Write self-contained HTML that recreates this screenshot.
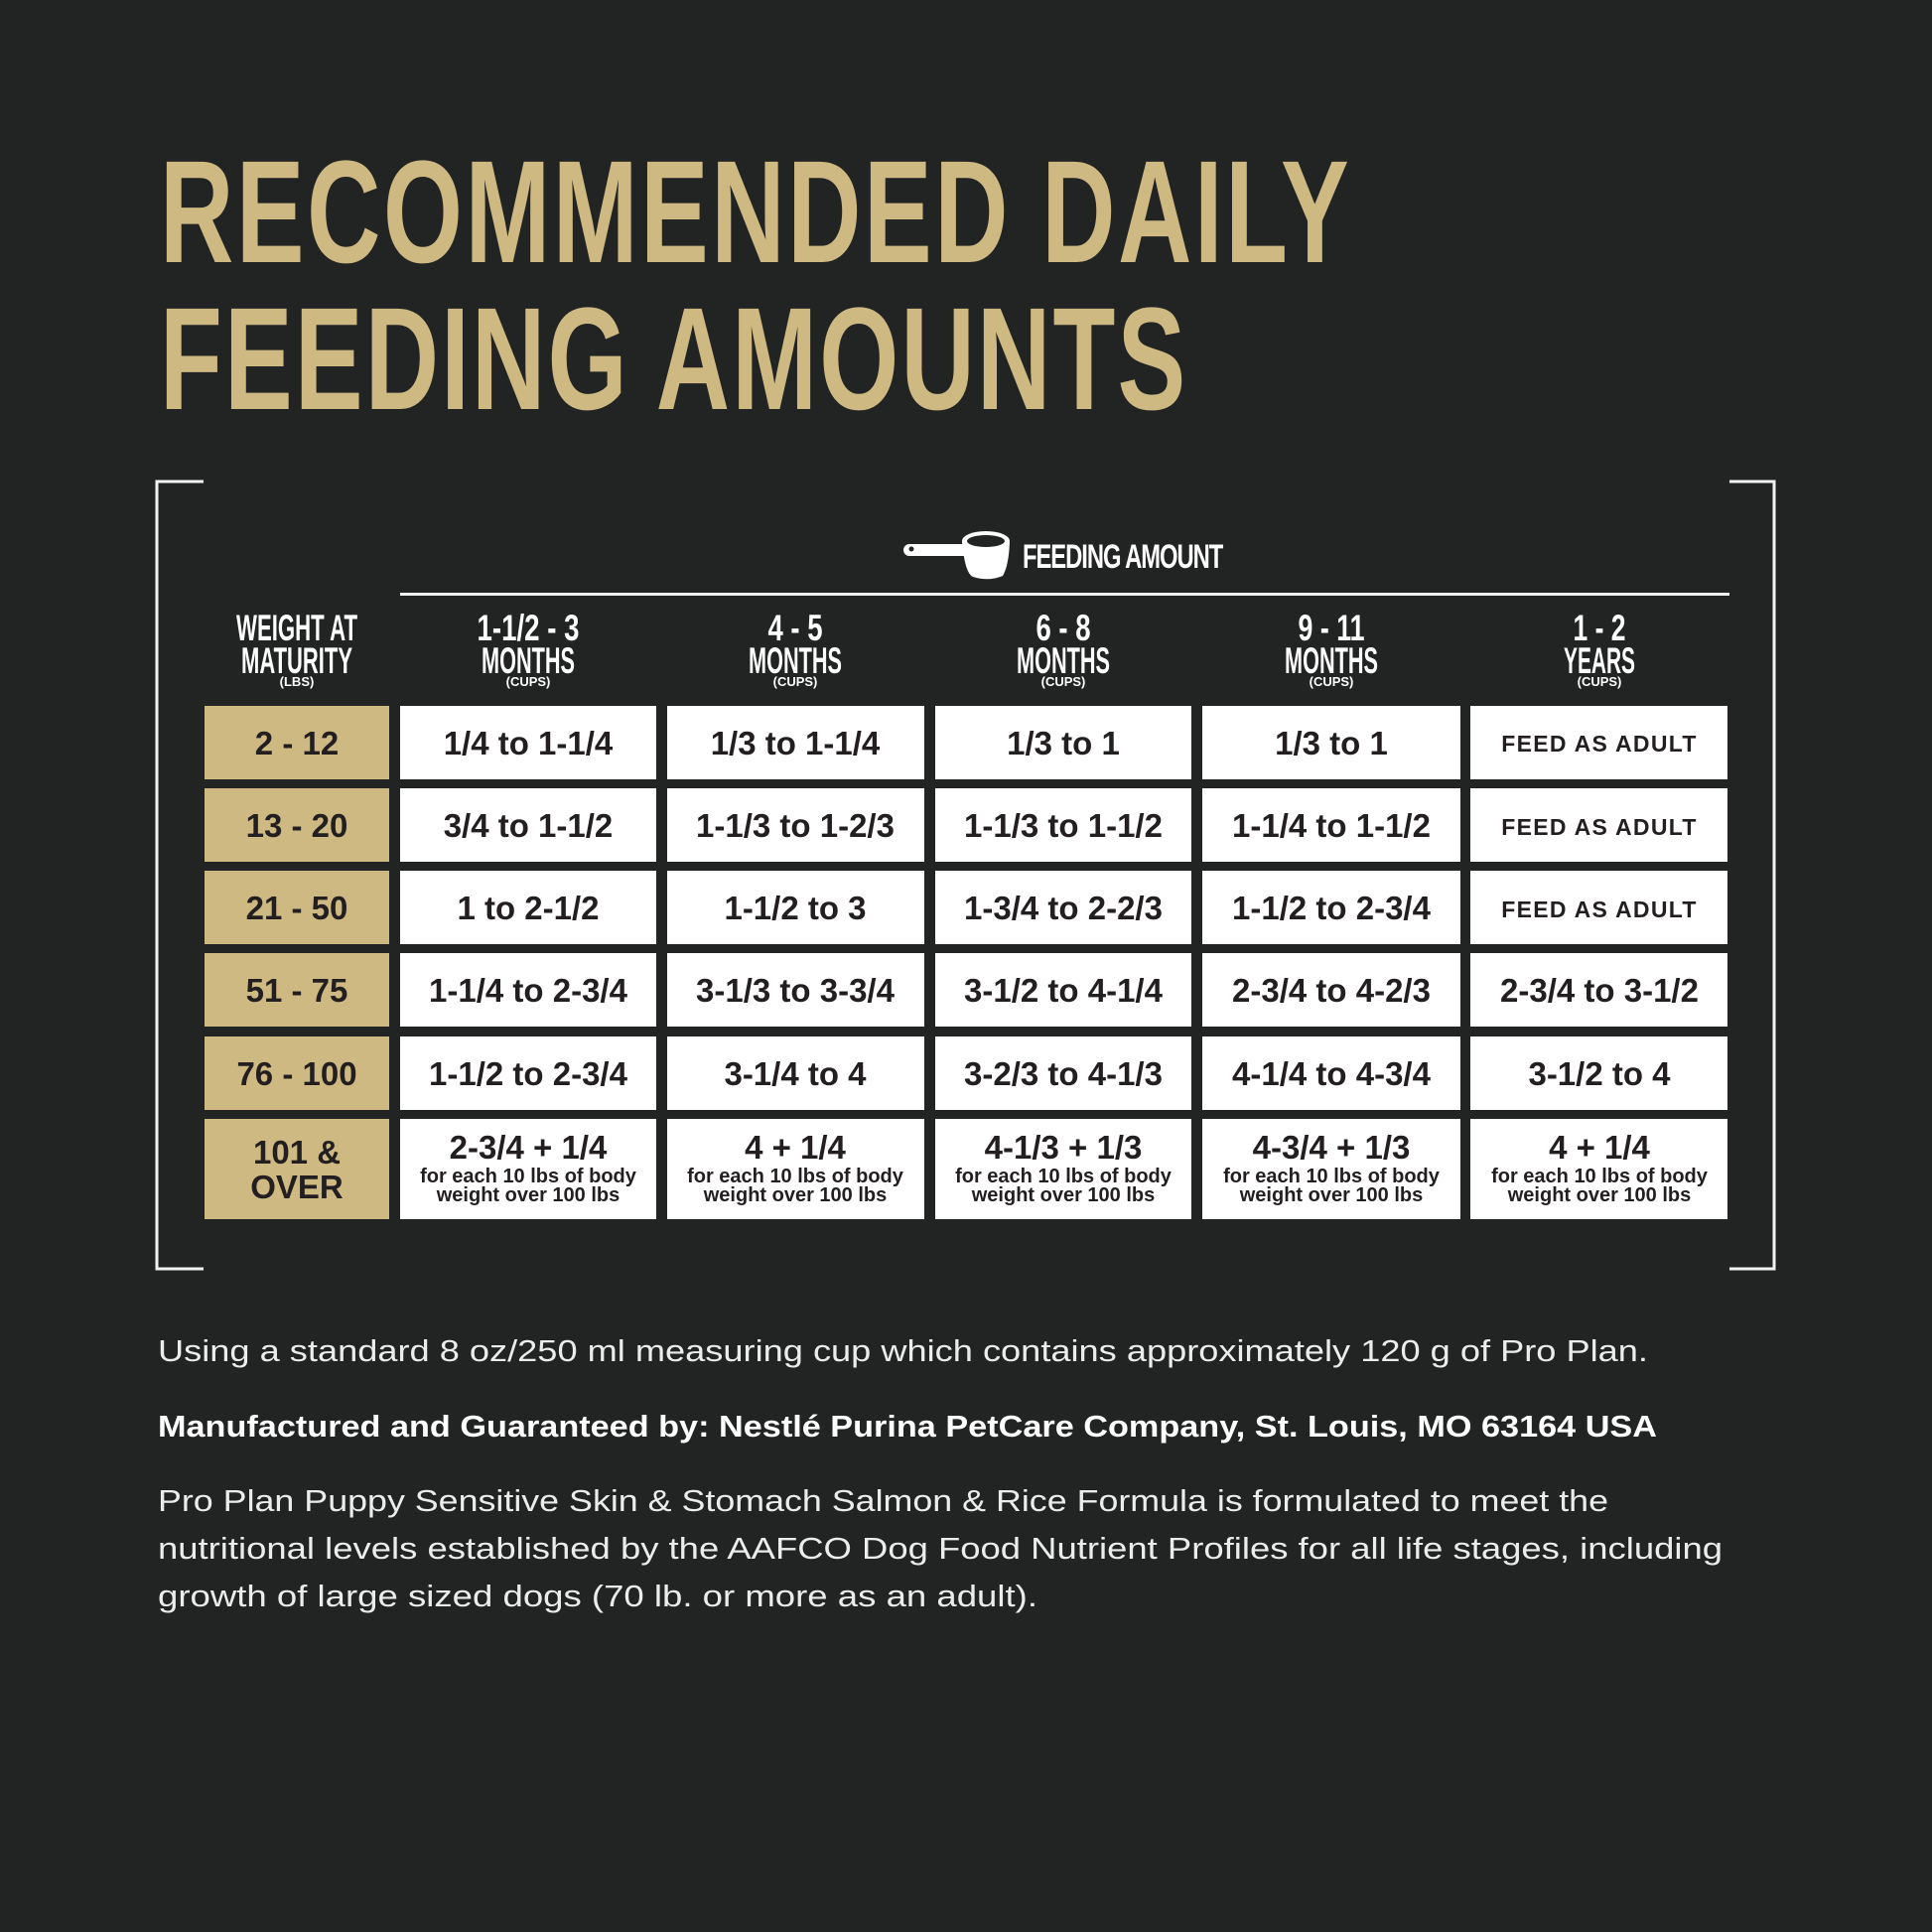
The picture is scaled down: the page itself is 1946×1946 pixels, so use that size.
<!DOCTYPE html>
<html><head><meta charset="utf-8"><style>
html,body{margin:0;padding:0;background:#222423;}
svg{display:block}
</style></head><body>
<svg width="1946" height="1946" viewBox="0 0 1946 1946" xmlns="http://www.w3.org/2000/svg">
<rect width="1946" height="1946" fill="#222423"/>
<g font-family="Liberation Sans, sans-serif">
<g transform="translate(161,264) scale(0.7,1)"><text x="0" y="0" font-size="147" font-weight="bold" fill="#cfb983" textLength="1711" lengthAdjust="spacing">RECOMMENDED DAILY</text></g>
<g transform="translate(161,412) scale(0.7,1)"><text x="0" y="0" font-size="147" font-weight="bold" fill="#cfb983" textLength="1476" lengthAdjust="spacing">FEEDING AMOUNTS</text></g>

<path d="M205 485 H158 V1278 H205" stroke="#f2f2f2" stroke-width="3" fill="none"/>
<path d="M1742 485 H1787 V1278 H1742" stroke="#f2f2f2" stroke-width="3" fill="none"/>

<!-- cup -->
<rect x="910" y="548" width="70" height="12" rx="6" fill="#fff"/>
<circle cx="918" cy="553" r="2.5" fill="#222423"/>
<path d="M969 546 Q972 578 980 581 Q996 586 1010 580 Q1016 570 1017 546 Z" fill="#fff"/>
<ellipse cx="993" cy="545" rx="24" ry="10" fill="#fff"/>
<ellipse cx="993" cy="545" rx="19" ry="6" fill="#222423"/>
<g transform="translate(1030,572) scale(0.7,1)"><text x="0" y="0" font-size="34" font-weight="bold" fill="#fff" textLength="289" lengthAdjust="spacing">FEEDING AMOUNT</text></g>
<rect x="403" y="597" width="1339" height="3" fill="#f2f2f2"/>

<!-- headers -->
<g fill="#fff" font-weight="bold" text-anchor="middle">
<text x="299" y="645" font-size="37" textLength="122" lengthAdjust="spacingAndGlyphs">WEIGHT AT</text>
<text x="299" y="678" font-size="37" textLength="112" lengthAdjust="spacingAndGlyphs">MATURITY</text>
<text x="299" y="691" font-size="13">(LBS)</text>
<text x="532" y="645" font-size="37" textLength="103" lengthAdjust="spacingAndGlyphs">1-1/2 - 3</text>
<text x="532" y="678" font-size="37" textLength="94" lengthAdjust="spacingAndGlyphs">MONTHS</text>
<text x="532" y="691" font-size="13">(CUPS)</text>
<text x="801" y="645" font-size="37" textLength="55" lengthAdjust="spacingAndGlyphs">4 - 5</text>
<text x="801" y="678" font-size="37" textLength="94" lengthAdjust="spacingAndGlyphs">MONTHS</text>
<text x="801" y="691" font-size="13">(CUPS)</text>
<text x="1071" y="645" font-size="37" textLength="55" lengthAdjust="spacingAndGlyphs">6 - 8</text>
<text x="1071" y="678" font-size="37" textLength="94" lengthAdjust="spacingAndGlyphs">MONTHS</text>
<text x="1071" y="691" font-size="13">(CUPS)</text>
<text x="1341" y="645" font-size="37" textLength="67" lengthAdjust="spacingAndGlyphs">9 - 11</text>
<text x="1341" y="678" font-size="37" textLength="94" lengthAdjust="spacingAndGlyphs">MONTHS</text>
<text x="1341" y="691" font-size="13">(CUPS)</text>
<text x="1611" y="645" font-size="37" textLength="53" lengthAdjust="spacingAndGlyphs">1 - 2</text>
<text x="1611" y="678" font-size="37" textLength="72" lengthAdjust="spacingAndGlyphs">YEARS</text>
<text x="1611" y="691" font-size="13">(CUPS)</text>
</g>

<!-- cells -->
<g fill="#cfb983">
<rect x="206" y="711" width="186" height="74"/>
<rect x="206" y="794" width="186" height="74"/>
<rect x="206" y="877" width="186" height="74"/>
<rect x="206" y="960" width="186" height="74"/>
<rect x="206" y="1044" width="186" height="74"/>
<rect x="206" y="1127" width="186" height="101"/>
</g>
<g fill="#fff">
<rect x="403" y="711" width="258" height="74"/><rect x="672" y="711" width="259" height="74"/><rect x="942" y="711" width="258" height="74"/><rect x="1211" y="711" width="260" height="74"/><rect x="1481" y="711" width="259" height="74"/>
<rect x="403" y="794" width="258" height="74"/><rect x="672" y="794" width="259" height="74"/><rect x="942" y="794" width="258" height="74"/><rect x="1211" y="794" width="260" height="74"/><rect x="1481" y="794" width="259" height="74"/>
<rect x="403" y="877" width="258" height="74"/><rect x="672" y="877" width="259" height="74"/><rect x="942" y="877" width="258" height="74"/><rect x="1211" y="877" width="260" height="74"/><rect x="1481" y="877" width="259" height="74"/>
<rect x="403" y="960" width="258" height="74"/><rect x="672" y="960" width="259" height="74"/><rect x="942" y="960" width="258" height="74"/><rect x="1211" y="960" width="260" height="74"/><rect x="1481" y="960" width="259" height="74"/>
<rect x="403" y="1044" width="258" height="74"/><rect x="672" y="1044" width="259" height="74"/><rect x="942" y="1044" width="258" height="74"/><rect x="1211" y="1044" width="260" height="74"/><rect x="1481" y="1044" width="259" height="74"/>
<rect x="403" y="1127" width="258" height="101"/><rect x="672" y="1127" width="259" height="101"/><rect x="942" y="1127" width="258" height="101"/><rect x="1211" y="1127" width="260" height="101"/><rect x="1481" y="1127" width="259" height="101"/>
</g>

<g fill="#231f20" font-weight="bold" text-anchor="middle" font-size="33">
<text x="299" y="760">2 - 12</text>
<text x="299" y="843">13 - 20</text>
<text x="299" y="926">21 - 50</text>
<text x="299" y="1009">51 - 75</text>
<text x="299" y="1093">76 - 100</text>
<text x="299" y="1172">101 &amp;</text>
<text x="299" y="1207">OVER</text>

<text x="532" y="760">1/4 to 1-1/4</text>
<text x="801" y="760">1/3 to 1-1/4</text>
<text x="1071" y="760">1/3 to 1</text>
<text x="1341" y="760">1/3 to 1</text>
<text x="1611" y="757" font-size="23" letter-spacing="1.3">FEED AS ADULT</text>

<text x="532" y="843">3/4 to 1-1/2</text>
<text x="801" y="843">1-1/3 to 1-2/3</text>
<text x="1071" y="843">1-1/3 to 1-1/2</text>
<text x="1341" y="843">1-1/4 to 1-1/2</text>
<text x="1611" y="841" font-size="23" letter-spacing="1.3">FEED AS ADULT</text>

<text x="532" y="926">1 to 2-1/2</text>
<text x="801" y="926">1-1/2 to 3</text>
<text x="1071" y="926">1-3/4 to 2-2/3</text>
<text x="1341" y="926">1-1/2 to 2-3/4</text>
<text x="1611" y="924" font-size="23" letter-spacing="1.3">FEED AS ADULT</text>

<text x="532" y="1009">1-1/4 to 2-3/4</text>
<text x="801" y="1009">3-1/3 to 3-3/4</text>
<text x="1071" y="1009">3-1/2 to 4-1/4</text>
<text x="1341" y="1009">2-3/4 to 4-2/3</text>
<text x="1611" y="1009">2-3/4 to 3-1/2</text>

<text x="532" y="1093">1-1/2 to 2-3/4</text>
<text x="801" y="1093">3-1/4 to 4</text>
<text x="1071" y="1093">3-2/3 to 4-1/3</text>
<text x="1341" y="1093">4-1/4 to 4-3/4</text>
<text x="1611" y="1093">3-1/2 to 4</text>

<text x="532" y="1167">2-3/4 + 1/4</text>
<text x="801" y="1167">4 + 1/4</text>
<text x="1071" y="1167">4-1/3 + 1/3</text>
<text x="1341" y="1167">4-3/4 + 1/3</text>
<text x="1611" y="1167">4 + 1/4</text>
<g font-size="20">
<text x="532" y="1191">for each 10 lbs of body</text><text x="532" y="1210">weight over 100 lbs</text>
<text x="801" y="1191">for each 10 lbs of body</text><text x="801" y="1210">weight over 100 lbs</text>
<text x="1071" y="1191">for each 10 lbs of body</text><text x="1071" y="1210">weight over 100 lbs</text>
<text x="1341" y="1191">for each 10 lbs of body</text><text x="1341" y="1210">weight over 100 lbs</text>
<text x="1611" y="1191">for each 10 lbs of body</text><text x="1611" y="1210">weight over 100 lbs</text>
</g>
</g>

<g fill="#ececec" font-size="31">
<text x="159" y="1371" textLength="1501" lengthAdjust="spacingAndGlyphs">Using a standard 8 oz/250 ml measuring cup which contains approximately 120 g of Pro Plan.</text>
<text x="159" y="1447" font-weight="bold" fill="#fff" textLength="1510" lengthAdjust="spacingAndGlyphs">Manufactured and Guaranteed by: Nestlé Purina PetCare Company, St. Louis, MO 63164 USA</text>
<text x="159" y="1522" textLength="1461" lengthAdjust="spacingAndGlyphs">Pro Plan Puppy Sensitive Skin &amp; Stomach Salmon &amp; Rice Formula is formulated to meet the</text>
<text x="159" y="1570" textLength="1576" lengthAdjust="spacingAndGlyphs">nutritional levels established by the AAFCO Dog Food Nutrient Profiles for all life stages, including</text>
<text x="159" y="1618" textLength="886" lengthAdjust="spacingAndGlyphs">growth of large sized dogs (70 lb. or more as an adult).</text>
</g>
</g>
</svg>
</body></html>
